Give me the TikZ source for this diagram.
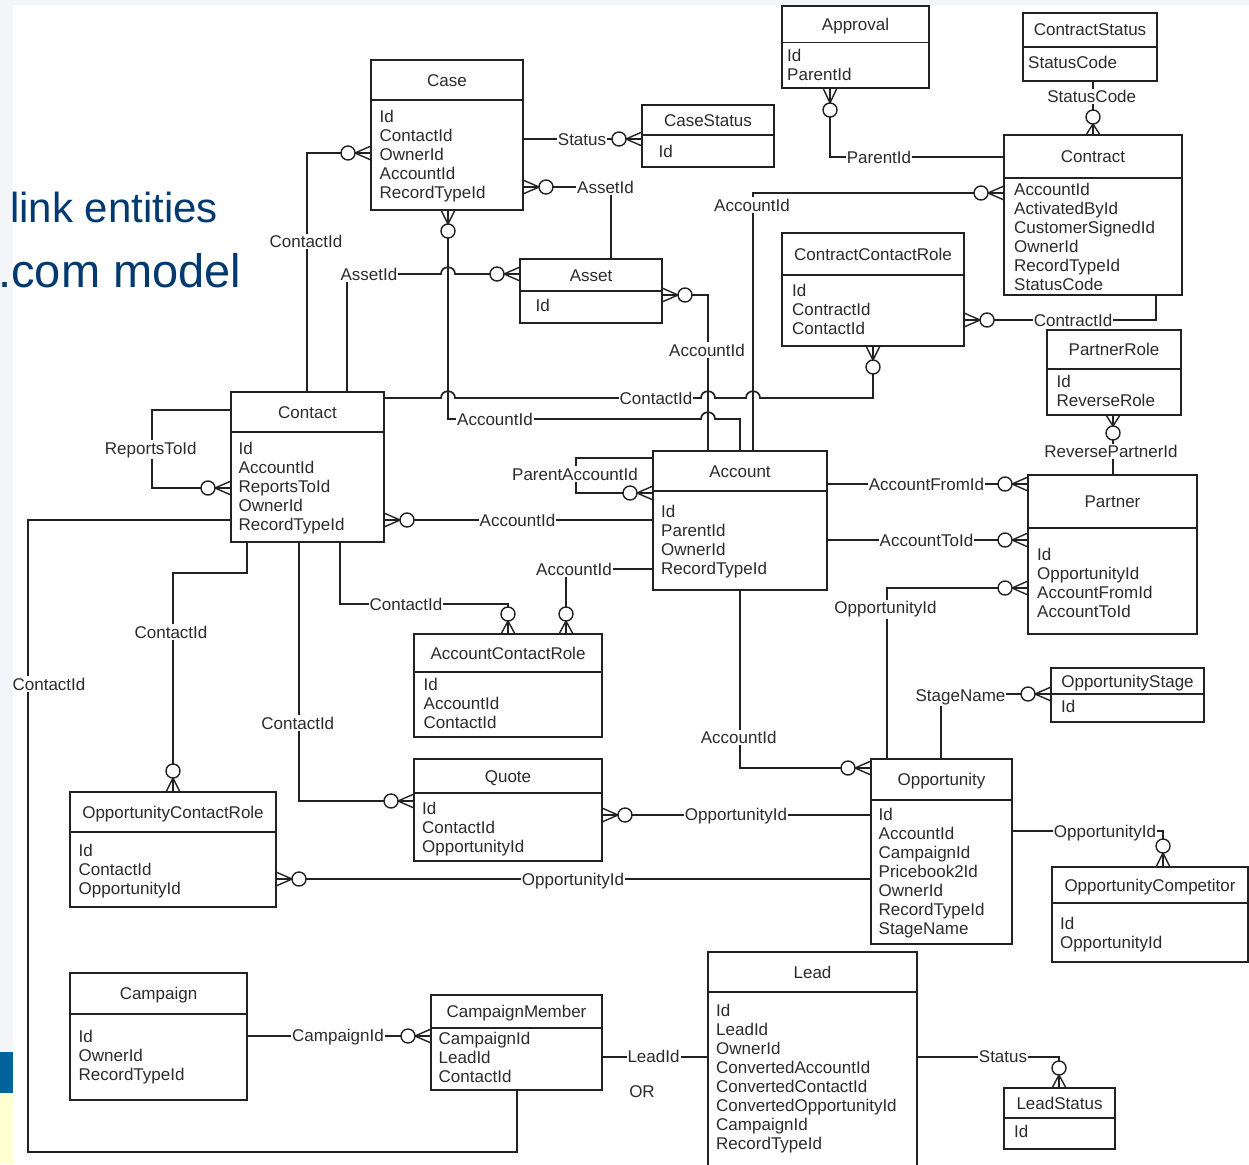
\documentclass[tikz,border=0pt]{standalone}
\usepackage{fontspec}
\setmainfont{Liberation Sans}
\definecolor{linec}{HTML}{222222}
\definecolor{txt}{HTML}{2B2B2B}
\definecolor{slidebg}{HTML}{F3F5F9}
\definecolor{slideblue}{HTML}{00649A}
\definecolor{slideyel}{HTML}{FFFFD2}
\definecolor{titleblue}{HTML}{003A70}
\newcommand\efont{\fontsize{17}{19}\selectfont}
% entity box: name, left, top, right, bottom, header line, title
\newcommand\entity[7]{%
  \node[ent, minimum width={(#4-#2)*1pt}, minimum height={(#5-#3)*1pt}] (#1) at ({(#2+#4)/2},{(#3+#5)/2}) {};
  \draw[box] (#1.west |- 0,#6) -- (#1.east |- 0,#6);
  \node[ttl] (#1-title) at ({(#2+#4)/2},{(#3+#6)/2+6}) {#7};}
% attribute list: name, x, first baseline, items
\newcommand\attrs[4]{\foreach \t [count=\i from 0] in {#4} {\node[att] (#1-a\i) at (#2,{#3+19*\i}) {\t};}}
% zero-or-many end: [circle distance]{point on border}{outward angle}
\newcommand\crow[3][23]{%
  \begin{scope}[shift={(#2)},rotate=#3]
    \draw[mk] (0,7) -- ({#1-7},0) -- (0,-7) (0,0) -- ({#1-7},0);
    \draw[mk,fill=white] (#1,0) circle[radius=7pt];
  \end{scope}}
\begin{document}
\begin{tikzpicture}[x=1pt,y=-1pt,
  ln/.style={draw=linec,line width=1.7pt},
  mk/.style={draw=linec,line width=1.4pt},
  box/.style={draw=linec,line width=1.9pt},
  ent/.style={box,rectangle,fill=white,inner sep=0pt,outer sep=0pt},
  ttl/.style={anchor=base,inner sep=0pt,font=\efont,text=txt},
  att/.style={anchor=base west,inner sep=0pt,font=\efont,text=txt},
  lbl/.style={anchor=base,fill=white,inner xsep=1pt,inner ysep=1.5pt,font=\efont,text=txt},
  big/.style={anchor=base east,inner sep=0pt,text=titleblue}]
\useasboundingbox (0,0) rectangle (1249,1164);
\clip (0,0) rectangle (1249,1164);
% slide background pieces
\fill[white] (0,0) rectangle (1249,1164);
\fill[slidebg] (0,0) rectangle (1249,5);
\fill[slidebg] (0,0) rectangle (13,1164);
\fill[slideblue] (0,1052) rectangle (13,1093);
\fill[slideyel] (0,1093) rectangle (13,1164);
\node[big,font=\fontsize{42}{48}\selectfont] (heading1) at (218,222) {link entities};
\node[big,font=\fontsize{47}{52}\selectfont] (heading2) at (241.5,287) {.com model};

% entities
\entity{case}{371}{60}{523}{210}{100}{Case}
\attrs{case}{379.5}{122.3}{Id,ContactId,OwnerId,AccountId,RecordTypeId}
\entity{casestatus}{642}{105}{774}{167}{135}{CaseStatus}
\attrs{casestatus}{658.5}{157}{Id}
\entity{approval}{782}{6}{929}{88}{42.5}{Approval}
\attrs{approval}{787}{61}{Id,ParentId}
\entity{contractstatus}{1023}{13}{1157}{81}{47}{ContractStatus}
\attrs{contractstatus}{1028}{68.5}{StatusCode}
\entity{contract}{1004}{135}{1182}{295}{178}{Contract}
\attrs{contract}{1014}{195}{AccountId,ActivatedById,CustomerSignedId,OwnerId,RecordTypeId,StatusCode}
\entity{ccr}{782}{233}{964}{346}{275}{ContractContactRole}
\attrs{ccr}{792}{296}{Id,ContractId,ContactId}
\entity{asset}{520}{259}{662}{323}{291}{Asset}
\attrs{asset}{535.5}{311.5}{Id}
\entity{partnerrole}{1047}{330}{1181}{415}{369}{PartnerRole}
\attrs{partnerrole}{1056.5}{387}{Id,ReverseRole}
\entity{contact}{231}{392}{384}{542}{432}{Contact}
\attrs{contact}{238.5}{454}{Id,AccountId,ReportsToId,OwnerId,RecordTypeId}
\entity{account}{653}{451}{827}{590}{491}{Account}
\attrs{account}{661}{517}{Id,ParentId,OwnerId,RecordTypeId}
\entity{partner}{1028}{475}{1197}{634}{528}{Partner}
\attrs{partner}{1037}{560}{Id,OpportunityId,AccountFromId,AccountToId}
\entity{acr}{414}{634}{602}{737}{672}{AccountContactRole}
\attrs{acr}{423.5}{690}{Id,AccountId,ContactId}
\entity{oppstage}{1051}{668}{1204}{722}{694}{OpportunityStage}
\attrs{oppstage}{1061}{712.5}{Id}
\entity{quote}{414}{759}{602}{861}{793}{Quote}
\attrs{quote}{422}{814}{Id,ContactId,OpportunityId}
\entity{opp}{871}{759}{1012}{944}{800}{Opportunity}
\attrs{opp}{878.5}{820}{Id,AccountId,CampaignId,Pricebook2Id,OwnerId,RecordTypeId,StageName}
\entity{ocr}{70}{792}{276}{907}{832}{OpportunityContactRole}
\attrs{ocr}{78.5}{856}{Id,ContactId,OpportunityId}
\entity{oppcomp}{1052}{867}{1248}{962}{903}{OpportunityCompetitor}
\attrs{oppcomp}{1060}{929}{Id,OpportunityId}
\entity{campaign}{70}{973}{247}{1100}{1014}{Campaign}
\attrs{campaign}{78.5}{1042.5}{Id,OwnerId,RecordTypeId}
\entity{cm}{431}{995}{602}{1090}{1028}{CampaignMember}
\attrs{cm}{438.5}{1044}{CampaignId,LeadId,ContactId}
\entity{lead}{708}{952}{917}{1180}{992}{Lead}
\attrs{lead}{716}{1016.5}{Id,LeadId,OwnerId,ConvertedAccountId,ConvertedContactId,ConvertedOpportunityId,CampaignId,RecordTypeId}
\entity{leadstatus}{1004}{1088}{1115}{1149}{1118}{LeadStatus}
\attrs{leadstatus}{1014}{1137.5}{Id}

% relationships
\draw[ln] (contact.north -| 307,0) -- (307,153) -- (case.west |- 0,153);
\draw[ln] (contact.north -| 347,0) -- (347,274) -- (441,274) .. controls (441,265) and (455,265) .. (455,274) -- (asset.west |- 0,274);
\draw[ln] (asset.north -| 611,0) -- (611,187) -- (case.east |- 0,187);
\draw[ln] (case.east |- 0,139) -- (casestatus.west |- 0,139);
\draw[ln] (account.north -| 740,0) -- (740,419) -- (715,419) .. controls (715,410) and (701,410) .. (701,419) -- (448,419) -- (case.south -| 448,0);
\draw[ln] (contact.east |- 0,398) -- (441,398) .. controls (441,389) and (455,389) .. (455,398) -- (701,398) .. controls (701,389) and (715,389) .. (715,398) -- (746,398) .. controls (746,389) and (760,389) .. (760,398) -- (873,398) -- (ccr.south -| 873,0);
\draw[ln] (account.north -| 708,0) -- (708,295) -- (asset.east |- 0,295);
\draw[ln] (account.north -| 753,0) -- (753,193) -- (contract.west |- 0,193);
\draw[ln] (contract.west |- 0,157) -- (830,157) -- (approval.south -| 830,0);
\draw[ln] (contractstatus.south -| 1093,0) -- (contract.north -| 1093,0);
\draw[ln] (contract.south -| 1156,0) -- (1156,320) -- (ccr.east |- 0,320);
\draw[ln] (partner.north -| 1113,0) -- (partnerrole.south -| 1113,0);
\draw[ln] (account.east |- 0,484) -- (partner.west |- 0,484);
\draw[ln] (account.east |- 0,540) -- (partner.west |- 0,540);
\draw[ln] (opp.north -| 887,0) -- (887,588) -- (partner.west |- 0,588);
\draw[ln] (opp.north -| 941,0) -- (941,694) -- (oppstage.west |- 0,694);
\draw[ln] (account.south -| 740,0) -- (740,768) -- (opp.west |- 0,768);
\draw[ln] (opp.east |- 0,831) -- (1163,831) -- (oppcomp.north -| 1163,0);
\draw[ln] (opp.west |- 0,815) -- (quote.east |- 0,815);
\draw[ln] (opp.west |- 0,879) -- (ocr.east |- 0,879);
\draw[ln] (account.west |- 0,520) -- (contact.east |- 0,520);
\draw[ln] (account.west |- 0,458) -- (576,458) -- (576,493) -- (account.west |- 0,493);
\draw[ln] (contact.west |- 0,410) -- (152,410) -- (152,488) -- (contact.west |- 0,488);
\draw[ln] (contact.south -| 247,0) -- (247,573) -- (173,573) -- (ocr.north -| 173,0);
\draw[ln] (contact.west |- 0,520) -- (28,520) -- (28,1152) -- (517,1152) -- (cm.south -| 517,0);
\draw[ln] (contact.south -| 299,0) -- (299,801) -- (quote.west |- 0,801);
\draw[ln] (contact.south -| 340,0) -- (340,604) -- (508,604) -- (acr.north -| 508,0);
\draw[ln] (account.west |- 0,569) -- (566,569) -- (acr.north -| 566,0);
\draw[ln] (campaign.east |- 0,1036) -- (cm.west |- 0,1036);
\draw[ln] (cm.east |- 0,1057) -- (lead.west |- 0,1057);
\draw[ln] (lead.east |- 0,1057) -- (1059,1057) -- (leadstatus.north -| 1059,0);

% relationship labels
\node[lbl] (r1) at (306,247.5) {ContactId};
\node[lbl] (r2) at (369,280.5) {AssetId};
\node[lbl] (r3) at (605.5,193) {AssetId};
\node[lbl] (r4) at (582,145.5) {Status};
\node[lbl] (r5) at (495,425.5) {AccountId};
\node[lbl] (r6) at (656,404.5) {ContactId};
\node[lbl] (r7) at (707,356) {AccountId};
\node[lbl] (r8) at (752,211) {AccountId};
\node[lbl] (r9) at (879,163.3) {ParentId};
\node[lbl] (r10) at (1091.7,102.7) {StatusCode};
\node[lbl] (r11) at (1073,326) {ContractId};
\node[lbl] (r12) at (1111,457.7) {ReversePartnerId};
\node[lbl] (r13) at (926.5,490) {AccountFromId};
\node[lbl] (r14) at (926.5,546) {AccountToId};
\node[lbl] (r15) at (885.5,613.7) {OpportunityId};
\node[lbl] (r16) at (960.5,701) {StageName};
\node[lbl] (r17) at (738.7,743.7) {AccountId};
\node[lbl] (r18) at (1105,837.7) {OpportunityId};
\node[lbl] (r19) at (736,820.3) {OpportunityId};
\node[lbl] (r20) at (573,885) {OpportunityId};
\node[lbl] (r21) at (517.5,526) {AccountId};
\node[lbl] (r22) at (575,480.3) {ParentAccountId};
\node[lbl] (r23) at (150.8,454.3) {ReportsToId};
\node[lbl] (r24) at (171,638.3) {ContactId};
\node[lbl] (r25) at (49,690) {ContactId};
\node[lbl] (r26) at (297.8,729.3) {ContactId};
\node[lbl] (r27) at (406,610) {ContactId};
\node[lbl] (r28) at (574,575) {AccountId};
\node[lbl] (r29) at (338,1041.7) {CampaignId};
\node[lbl] (r30) at (653.5,1062.7) {LeadId};
\node[ttl] (r30b) at (642,1097) {OR};
\node[lbl] (r31) at (1003,1062.7) {Status};

% zero-or-many ends
\crow{case.west |- 0,153}{180}
\crow{asset.west |- 0,274}{180}
\crow{case.east |- 0,187}{0}
\crow{casestatus.west |- 0,139}{180}
\crow[21]{case.south -| 448,0}{270}
\crow[21]{ccr.south -| 873,0}{270}
\crow{asset.east |- 0,295}{0}
\crow{contract.west |- 0,193}{180}
\crow[22]{approval.south -| 830,0}{270}
\crow[18]{contract.north -| 1093,0}{90}
\crow{ccr.east |- 0,320}{0}
\crow[18]{partnerrole.south -| 1113,0}{270}
\crow{partner.west |- 0,484}{180}
\crow{partner.west |- 0,540}{180}
\crow{partner.west |- 0,588}{180}
\crow{oppstage.west |- 0,694}{180}
\crow{opp.west |- 0,768}{180}
\crow[21]{oppcomp.north -| 1163,0}{90}
\crow{quote.east |- 0,815}{0}
\crow{ocr.east |- 0,879}{0}
\crow{contact.east |- 0,520}{0}
\crow{account.west |- 0,493}{180}
\crow{contact.west |- 0,488}{180}
\crow[21]{ocr.north -| 173,0}{90}
\crow{quote.west |- 0,801}{180}
\crow[20]{acr.north -| 508,0}{90}
\crow[20]{acr.north -| 566,0}{90}
\crow{cm.west |- 0,1036}{180}
\crow[20]{leadstatus.north -| 1059,0}{90}
\end{tikzpicture}
\end{document}
